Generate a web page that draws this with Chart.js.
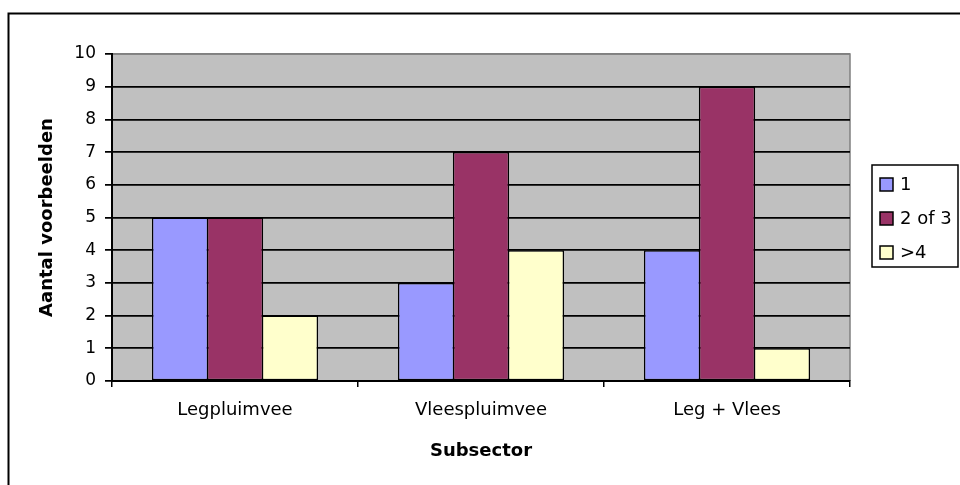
<!DOCTYPE HTML>
<html>
<head>
	<title>Aantal voorbeelden per subsector</title>
	<script src="https://cdn.jsdelivr.net/npm/chart.js@4"></script>
	<style>
		body { margin: 0; background: #fff; }
	</style>
</head>

<body>
	<canvas id="myChart" width="960" height="485"></canvas>
	<script>
		const categories = ["Legpluimvee", "Vleespluimvee", "Leg + Vlees"];
		const seriesNames = ["1", "2 of 3", ">4"];
		const oneValues = [5, 3, 4];
		const twoOrThreeValues = [5, 7, 9];
		const fourPlusValues = [2, 4, 1];
		const yTicks = [0, 1, 2, 3, 4, 5, 6, 7, 8, 9, 10];
		const colors = ["#9999FF", "#993366", "#FFFFCC"];

		const FONT = "'DejaVu Sans', sans-serif";

		// grey plot area + the outer frame of the chart
		const backdrop = {
			id: 'backdrop',
			beforeDraw(chart) {
				const { ctx, chartArea: a } = chart;
				ctx.save();
				ctx.fillStyle = '#C0C0C0';
				ctx.fillRect(a.left, a.top, a.right - a.left, a.bottom - a.top);
				ctx.strokeStyle = '#808080';
				ctx.lineWidth = 1.5;
				ctx.beginPath();
				ctx.moveTo(a.left, a.top);
				ctx.lineTo(a.right, a.top);
				ctx.lineTo(a.right, a.bottom);
				ctx.stroke();
				ctx.strokeStyle = '#000';
				ctx.lineWidth = 2;
				ctx.strokeRect(8.5, 13.5, 1000, 1000);
				ctx.restore();
			}
		};

		// legend drawn as a boxed list on the right
		const boxLegend = {
			id: 'boxLegend',
			afterDraw(chart) {
				const { ctx } = chart;
				const x = 872, y = 165, w = 86, h = 102;
				ctx.save();
				ctx.fillStyle = '#fff';
				ctx.fillRect(x, y, w, h);
				ctx.strokeStyle = '#000';
				ctx.lineWidth = 1.5;
				ctx.strokeRect(x, y, w, h);
				ctx.font = '18px ' + FONT;
				ctx.textBaseline = 'middle';
				chart.data.datasets.forEach((ds, i) => {
					const cy = 184.5 + i * 34;
					ctx.fillStyle = ds.backgroundColor;
					ctx.fillRect(880, cy - 6.5, 13, 13);
					ctx.strokeRect(880, cy - 6.5, 13, 13);
					ctx.fillStyle = '#000';
					ctx.fillText(ds.label, 900, cy + 1);
				});
				ctx.restore();
			}
		};

		const data = {
			labels: categories,
			datasets: [oneValues, twoOrThreeValues, fourPlusValues].map((vals, i) => ({
				label: seriesNames[i],
				data: vals,
				backgroundColor: colors[i],
				borderColor: '#000',
				borderWidth: 1.5,
				borderSkipped: false,
				categoryPercentage: 0.67,
				barPercentage: 1.025
			}))
		};

		const config = {
			type: 'bar',
			data: data,
			plugins: [backdrop, boxLegend],
			options: {
				responsive: false,
				devicePixelRatio: 1,
				animation: false,
				layout: {
					padding: { top: 54, right: 110, left: 0, bottom: 0 }
				},
				plugins: {
					legend: { display: false },
					tooltip: { enabled: false }
				},
				scales: {
					x: {
						afterFit: s => { s.height = 104; },
						grid: {
							offset: true,
							drawOnChartArea: false,
							color: '#000',
							tickLength: 6,
							lineWidth: 1.5
						},
						border: { display: true, color: '#000', width: 2 },
						ticks: {
							color: '#000',
							padding: 13,
							font: { family: FONT, size: 18 }
						},
						title: {
							display: true,
							text: 'Subsector',
							color: '#000',
							font: { family: FONT, size: 18, weight: 'bold' },
							padding: { top: 0, bottom: 23 }
						}
					},
					y: {
						min: 0,
						max: 10,
						afterFit: s => { s.width = 112; },
						afterBuildTicks: s => { s.ticks = yTicks.map(v => ({ value: v })); },
						grid: {
							color: c => c.tick && c.tick.value === 10 ? '#808080' : '#000',
							tickColor: '#000',
							tickLength: 7,
							lineWidth: 1.75
						},
						border: { display: true, color: '#000', width: 2 },
						ticks: {
							color: '#000',
							padding: 9,
							font: { family: FONT, size: 17 }
						},
						title: {
							display: true,
							text: 'Aantal voorbeelden',
							color: '#000',
							font: { family: FONT, size: 18, weight: 'bold' },
							padding: { top: 37, bottom: 0 }
						}
					}
				}
			}
		};

		const myChart = new Chart(document.getElementById('myChart'), config);
	</script>
</body>
</html>
